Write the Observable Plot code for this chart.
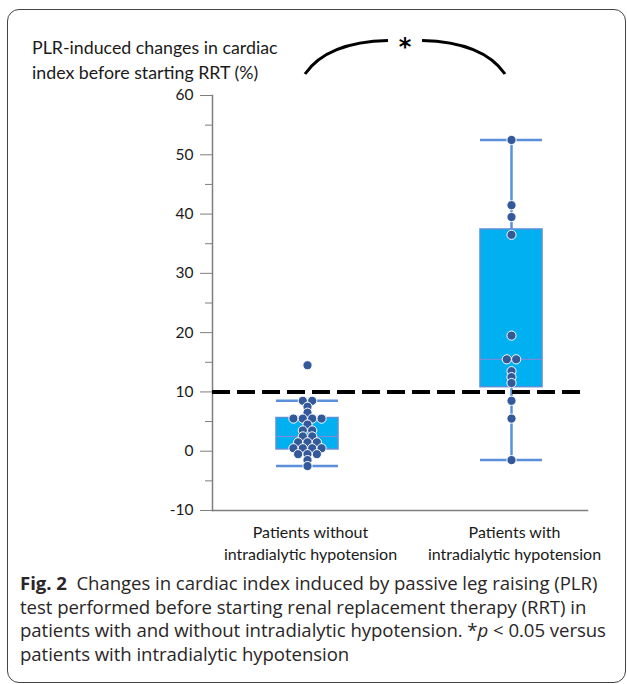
<!DOCTYPE html>
<html>
<head>
<meta charset="utf-8">
<script src="https://cdn.jsdelivr.net/npm/d3@7"></script>
<script src="https://cdn.jsdelivr.net/npm/@observablehq/plot@0.6"></script>
<style>
  html, body { margin: 0; padding: 0; background: #fff; }
  #wrap { position: relative; width: 627px; height: 684px; overflow: hidden; }
  #border { position: absolute; left: 7px; top: 9px; width: 619px; height: 674px;
            border: 1.3px solid #444; border-radius: 12px; box-sizing: border-box; }
  #chart { position: absolute; left: 0; top: 0; }
  #ytitle { position: absolute; left: 32px; top: 35px; font-family: Lato, sans-serif;
            font-size: 17.8px; line-height: 25px; color: #1a1a1a; white-space: nowrap; }
  #caption { position: absolute; left: 20px; top: 571px; font-family: "Open Sans", sans-serif;
             font-size: 18.6px; line-height: 23.5px; color: #2a2627; white-space: nowrap; letter-spacing: -0.05px; }
  #caption b { font-weight: 700; }
</style>
</head>
<body>
<div id="wrap">
  <div id="border"></div>
  <div id="chart"></div>
  <div id="ytitle">PLR-induced changes in cardiac<br>index before starting RRT (%)</div>
  <div id="caption"><b>Fig. 2</b>&nbsp; Changes in cardiac index induced by passive leg raising (PLR)<br>test performed before starting renal replacement therapy (RRT) in<br>patients with and without intradialytic hypotension. *<i>p</i> &lt; 0.05 versus<br>patients with intradialytic hypotension</div>
</div>
<script>
// ---- data ----
const groupLabels = ["Patients without\nintradialytic hypotension", "Patients with\nintradialytic hypotension"];
const valuesWithout = [14.5, 8.5, 8.5, 7.5, 6.5, 5.5, 5.5, 5.5, 5.5, 4.5, 3.5, 3.5, 2.5, 2.5,
                       1.5, 1.5, 1.5, 0.5, 0.5, 0.5, 0.5, -0.5, -0.5, -0.5, -1.5, -2.5];
const valuesWith = [52.5, 41.5, 39.5, 36.5, 19.5, 15.5, 15.5, 13.5, 12.5, 11.5, 8.5, 5.5, -1.5];
const q1 = [0.3, 10.8];
const median = [2.5, 15.5];
const q3 = [5.6, 37.4];
const whiskerLow = [-2.5, -1.5];
const whiskerHigh = [8.5, 52.5];
const threshold = [10];
const majorTicks = [-10, 0, 10, 20, 30, 40, 50, 60];
const minorTicks = [-5, 5, 15, 25, 35, 45, 55];

// ---- tables built from the arrays ----
const stats = groupLabels.map((label, k) => ({
  g: k + 1, label, q1: q1[k], median: median[k], q3: q3[k], lo: whiskerLow[k], hi: whiskerHigh[k]
}));
const dots = [];
[valuesWithout, valuesWith].forEach((vals, k) => {
  const rows = d3.group(vals, v => v);
  for (const [v, arr] of rows) {
    arr.forEach((_, i) => dots.push({g: k + 1, v, slot: i - (arr.length - 1) / 2}));
  }
});

const halfBox = 0.152;   // half box width in group units
const dotStep = 0.046;   // horizontal dot spacing in group units
const blue = "#5b8fd9";

const plot = Plot.plot({
  width: 627,
  height: 570,
  marginLeft: 212,
  marginRight: 40,
  marginTop: 95,
  marginBottom: 60,
  style: {fontFamily: "Lato, sans-serif", fontSize: "15px", color: "#1a1a1a", background: "transparent"},
  x: {type: "linear", domain: [1, 2], range: [307, 511], axis: null},
  y: {domain: [-10, 60]},
  marks: [
    Plot.frame({anchor: "left", stroke: "#7f7f7f", strokeWidth: 1.5}),
    Plot.frame({anchor: "bottom", stroke: "#7f7f7f", strokeWidth: 1.5}),
    Plot.axisY({ticks: majorTicks, tickSize: 12, tickPadding: 7, tickFormat: d => String(d),
                stroke: "#7f7f7f", fill: "#1a1a1a", fontSize: 15.5, label: null}),
    Plot.axisY({ticks: minorTicks, tickSize: 7, tickFormat: () => "", stroke: "#7f7f7f", label: null}),
    Plot.ruleX(stats, {x: "g", y1: "lo", y2: "hi", stroke: blue, strokeWidth: 2.5}),
    Plot.ruleY(stats, {y: "lo", x1: d => d.g - halfBox, x2: d => d.g + halfBox, stroke: blue, strokeWidth: 2.5}),
    Plot.ruleY(stats, {y: "hi", x1: d => d.g - halfBox, x2: d => d.g + halfBox, stroke: blue, strokeWidth: 2.5}),
    Plot.rect(stats, {x1: d => d.g - halfBox, x2: d => d.g + halfBox, y1: "q1", y2: "q3",
                      fill: "#00b0f0", stroke: blue, strokeWidth: 1.5}),
    Plot.ruleY(stats, {y: "median", x1: d => d.g - halfBox, x2: d => d.g + halfBox, stroke: "#8c85d8", strokeWidth: 1}),
    Plot.ruleY(threshold, {stroke: "#000", strokeWidth: 4, strokeDasharray: "18,7"}),
    Plot.dot(dots, {x: d => d.g + d.slot * dotStep, y: "v", r: 4.6, fill: "#34599a", stroke: "#fff", strokeWidth: 1}),
    Plot.text(stats, {x: "g", text: "label", frameAnchor: "bottom", lineAnchor: "top", dy: 12, dx: 3,
                      lineHeight: 1.38, fontSize: 16, fill: "#1a1a1a"})
  ]
});

// significance bracket (annotation)
const xs = plot.scale("x");
const xa = xs.apply(1) - 2, xb = xs.apply(2) - 6;
const mid = (xa + xb) / 2;
const svg = d3.select(plot);
svg.append("path")
  .attr("d", `M${xa},74 Q${xa + 22},42 ${mid - 17},40.5`)
  .attr("fill", "none").attr("stroke", "#000").attr("stroke-width", 3);
svg.append("path")
  .attr("d", `M${mid + 17},40.5 Q${xb - 22},42 ${xb},74`)
  .attr("fill", "none").attr("stroke", "#000").attr("stroke-width", 3);
svg.append("text")
  .attr("x", mid).attr("y", 55).attr("text-anchor", "middle")
  .attr("font-family", "DejaVu Sans, sans-serif").attr("font-size", 24).attr("font-weight", "bold")
  .attr("fill", "#000").text("*");

document.getElementById("chart").appendChild(plot);
</script>
</body>
</html>
